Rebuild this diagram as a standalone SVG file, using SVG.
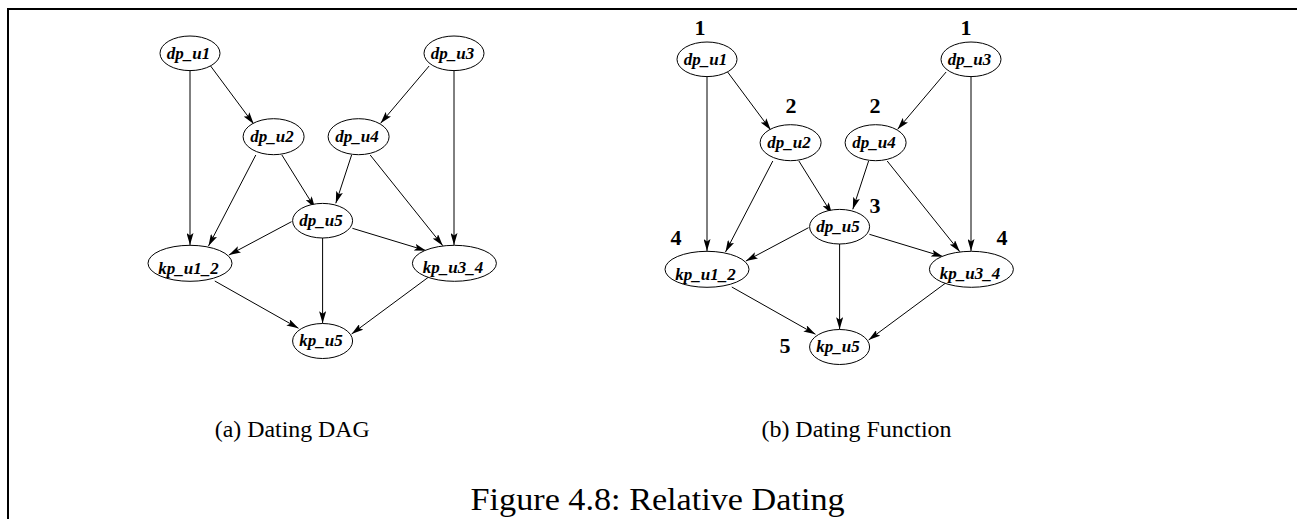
<svg xmlns="http://www.w3.org/2000/svg" width="1297" height="519" viewBox="0 0 1297 519">
<style>
.nd ellipse{fill:#fff;stroke:#000;stroke-width:1}
.nd text{font-family:"Liberation Serif","Times New Roman",serif;font-style:italic;font-weight:bold;font-size:17px;text-anchor:middle;fill:#000}
.ed line{stroke:#000;stroke-width:1;fill:none;marker-end:url(#ah)}
.num{font-family:"Liberation Serif","Times New Roman",serif;font-weight:bold;font-size:22px;text-anchor:middle;fill:#000}
.cap{font-family:"Liberation Serif","Times New Roman",serif;font-size:24px;text-anchor:middle;fill:#000}
.fig{font-family:"Liberation Serif","Times New Roman",serif;font-size:31px;fill:#000}
</style>
<defs>
<marker id="ah" viewBox="0 0 12 7" refX="12" refY="3.5" markerWidth="12" markerHeight="7" orient="auto" markerUnits="userSpaceOnUse">
<path d="M0,0 L12,3.5 L0,7 L2.5,3.5 z" fill="#000"/>
</marker>
</defs>
<rect width="1297" height="519" fill="#fff"/>
<path d="M8,519 L8,9 L1297,9" fill="none" stroke="#000" stroke-width="2"/>

<g id="connectors">
<g class="ed" id="edges-a">
<line x1="190" y1="70.7" x2="190" y2="245"/>
<line x1="210.6" y1="66" x2="253.7" y2="124"/>
<line x1="429.1" y1="66" x2="380.6" y2="123.3"/>
<line x1="454" y1="70.7" x2="454" y2="245"/>
<line x1="255.8" y1="155" x2="208.5" y2="246"/>
<line x1="281.9" y1="155" x2="315.1" y2="208.3"/>
<line x1="351.6" y1="155" x2="335.8" y2="203.3"/>
<line x1="370.2" y1="155" x2="442.8" y2="245.7"/>
<line x1="291.5" y1="221.7" x2="228.9" y2="255"/>
<line x1="352.4" y1="228.3" x2="426.2" y2="250.7"/>
<line x1="322.6" y1="238" x2="322.6" y2="323.3"/>
<line x1="214.8" y1="281" x2="298.5" y2="328.3"/>
<line x1="429.1" y1="276.7" x2="351.6" y2="334"/>
</g>
<g class="ed" id="edges-b" transform="translate(517,6)">
<line x1="190" y1="70.7" x2="190" y2="245"/>
<line x1="210.6" y1="66" x2="253.7" y2="124"/>
<line x1="429.1" y1="66" x2="380.6" y2="123.3"/>
<line x1="454" y1="70.7" x2="454" y2="245"/>
<line x1="255.8" y1="155" x2="208.5" y2="246"/>
<line x1="281.9" y1="155" x2="315.1" y2="208.3"/>
<line x1="351.6" y1="155" x2="335.8" y2="203.3"/>
<line x1="370.2" y1="155" x2="442.8" y2="245.7"/>
<line x1="291.5" y1="221.7" x2="228.9" y2="255"/>
<line x1="352.4" y1="228.3" x2="426.2" y2="250.7"/>
<line x1="322.6" y1="238" x2="322.6" y2="323.3"/>
<line x1="214.8" y1="281" x2="298.5" y2="328.3"/>
<line x1="429.1" y1="276.7" x2="351.6" y2="334"/>
</g>
</g>

<g id="graph-a">
<g class="nd" id="a-dp_u1"><ellipse cx="190" cy="53.3" rx="30" ry="17.3"/><text x="188.5" y="59">dp_u1</text></g>
<g class="nd" id="a-dp_u3"><ellipse cx="454" cy="53.3" rx="30" ry="17.3"/><text x="452.5" y="59">dp_u3</text></g>
<g class="nd" id="a-dp_u2"><ellipse cx="273.6" cy="136.7" rx="30.5" ry="18"/><text x="272" y="142">dp_u2</text></g>
<g class="nd" id="a-dp_u4"><ellipse cx="358.6" cy="136.7" rx="30.5" ry="18"/><text x="357" y="142">dp_u4</text></g>
<g class="nd" id="a-dp_u5"><ellipse cx="322.6" cy="220.7" rx="30" ry="17.3"/><text x="321" y="225.5">dp_u5</text></g>
<g class="nd" id="a-kp_u1_2"><ellipse cx="190" cy="263.3" rx="42" ry="18"/><text x="188.5" y="273.5">kp_u1_2</text></g>
<g class="nd" id="a-kp_u3_4"><ellipse cx="454.4" cy="263.3" rx="42" ry="18"/><text x="453" y="273">kp_u3_4</text></g>
<g class="nd" id="a-kp_u5"><ellipse cx="322.6" cy="341" rx="30" ry="17.5"/><text x="321" y="345.5">kp_u5</text></g>
</g>

<g id="graph-b" transform="translate(517,6)">
<g class="nd" id="b-dp_u1"><ellipse cx="190" cy="53.3" rx="30" ry="17.3"/><text x="188.5" y="59">dp_u1</text></g>
<g class="nd" id="b-dp_u3"><ellipse cx="454" cy="53.3" rx="30" ry="17.3"/><text x="452.5" y="59">dp_u3</text></g>
<g class="nd" id="b-dp_u2"><ellipse cx="273.6" cy="136.7" rx="30.5" ry="18"/><text x="272" y="142">dp_u2</text></g>
<g class="nd" id="b-dp_u4"><ellipse cx="358.6" cy="136.7" rx="30.5" ry="18"/><text x="357" y="142">dp_u4</text></g>
<g class="nd" id="b-dp_u5"><ellipse cx="322.6" cy="220.7" rx="30" ry="17.3"/><text x="321" y="225.5">dp_u5</text></g>
<g class="nd" id="b-kp_u1_2"><ellipse cx="190" cy="263.3" rx="42" ry="18"/><text x="188.5" y="273.5">kp_u1_2</text></g>
<g class="nd" id="b-kp_u3_4"><ellipse cx="454.4" cy="263.3" rx="42" ry="18"/><text x="453" y="273">kp_u3_4</text></g>
<g class="nd" id="b-kp_u5"><ellipse cx="322.6" cy="341" rx="30" ry="17.5"/><text x="321" y="345.5">kp_u5</text></g>
</g>

<g id="dates">
<text class="num" x="700" y="35">1</text>
<text class="num" x="966" y="35">1</text>
<text class="num" x="791" y="113">2</text>
<text class="num" x="875" y="113">2</text>
<text class="num" x="875" y="213">3</text>
<text class="num" x="676" y="245">4</text>
<text class="num" x="1002" y="245">4</text>
<text class="num" x="785" y="353">5</text>
</g>

<text class="cap" x="292.3" y="437" textLength="155" lengthAdjust="spacingAndGlyphs">(a) Dating DAG</text>
<text class="cap" x="856.5" y="437" textLength="190" lengthAdjust="spacingAndGlyphs">(b) Dating Function</text>
<text class="fig" x="470.6" y="509.5" textLength="374" lengthAdjust="spacingAndGlyphs">Figure 4.8: Relative Dating</text>
</svg>
